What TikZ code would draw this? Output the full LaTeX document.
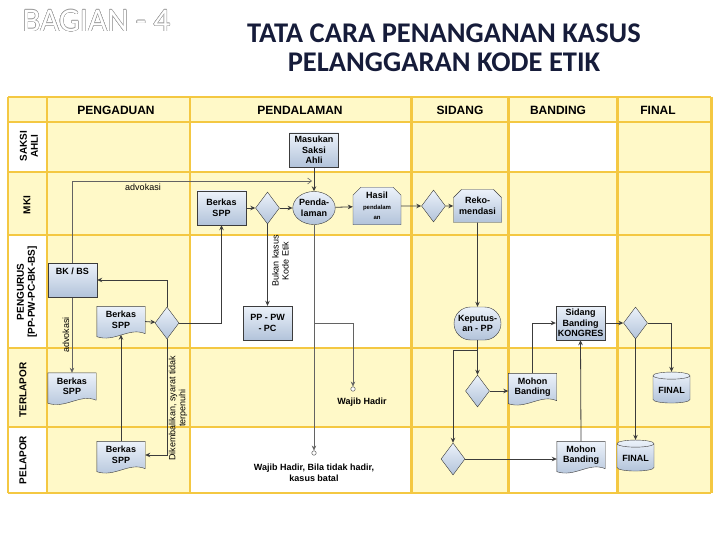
\documentclass[tikz,border=0pt]{standalone}
\usepackage{fontspec}
\setmainfont{Liberation Sans}
\newfontfamily\titlefont{Carlito}
\usepackage{contour}
\usetikzlibrary{arrows.meta,shapes.geometric,shapes.misc}
\definecolor{cellY}{RGB}{255,249,200}
\definecolor{gridC}{RGB}{244,200,66}
\definecolor{nodeT}{RGB}{236,242,250}
\definecolor{nodeB}{RGB}{178,195,218}
\definecolor{lineC}{RGB}{60,60,60}
\definecolor{titleC}{RGB}{22,28,58}
\contourlength{0.4pt}
\pgfdeclarelayer{bg}\pgfdeclarelayer{mid}\pgfsetlayers{bg,mid,main}
\tikzset{nb/.style={draw=lineC,top color=nodeT,bottom color=nodeB,font=\bfseries\fontsize{9}{10.5}\selectfont,align=center,inner sep=1pt},
pr/.style={nb,rectangle,minimum width=49,minimum height=34},
dm/.style={nb,diamond,minimum width=24,minimum height=32,inner sep=0pt},
el/.style={nb,ellipse,minimum width=42,minimum height=33,inner sep=0pt},
ch/.style={nb,chamfered rectangle,chamfered rectangle corners={north west,north east},chamfered rectangle xsep=4pt,chamfered rectangle ysep=4pt,minimum width=48,minimum height=33},
rr/.style={nb,rounded rectangle,minimum width=49,minimum height=33},
cy/.style={nb,cylinder,shape border rotate=90,aspect=0.25,minimum width=37,minimum height=31},
dc/.style={font=\bfseries\fontsize{9}{10.5}\selectfont,align=center,minimum width=48,minimum height=27,inner sep=1pt},
tm/.style={draw=lineC,circle,fill=white,minimum size=4.5,inner sep=0pt},
hd/.style={font=\bfseries\fontsize{12}{12}\selectfont},
rl/.style={font=\bfseries\fontsize{10}{11}\selectfont,align=center,rotate=90},
lb/.style={font=\fontsize{9}{10}\selectfont,align=center},
gl/.style={draw=gridC,line width=1.6},
ar/.style={draw=lineC,line width=0.8,-{Stealth[length=5pt,width=4.5pt]}},
tl/.style={draw=lineC!80,line width=0.6,-{Stealth[length=5pt,width=4.5pt]}}}
\begin{document}
\begin{tikzpicture}[x=1pt,y=-1pt]
\useasboundingbox (0,0) rectangle (720,540);
\node[font=\titlefont\fontsize{33}{33}\selectfont,text=white,anchor=west] (bag) at (19,21) {\contour{gray!80}{BAGIAN - 4}};
\node[font=\titlefont\bfseries\fontsize{28.5}{29}\selectfont,text=titleC,align=center] (ttl) at (444,48) {TATA CARA PENANGANAN KASUS\\PELANGGARAN KODE ETIK};
\begin{pgfonlayer}{bg}
\fill[cellY] (8,97) rectangle (711,493);
\foreach\ya/\yb in{122/172,235/348,427/493}\foreach\xa/\xb in{8/47,190/411.5,508/617}\fill[white](\xa,\ya)rectangle(\xb,\yb);
\foreach\yy in{97,122,172,235,348,427,493}\draw[gl](8,\yy)--(711,\yy);
\foreach\xx in{8,47,190}\draw[gl](\xx,97)--(\xx,493);
\foreach\xx in{411.5,508,617,711}\draw[gl,line width=3](\xx,97)--(\xx,493);
\end{pgfonlayer}
\foreach\x/\t in{116/PENGADUAN,300/PENDALAMAN,460/SIDANG,558/BANDING,658/FINAL}\node[hd](h\t)at(\x,110){\t};
\node[rl](rSA)at(29,146){SAKSI\\AHLI};
\node[rl](rMKI)at(27,205){MKI};
\node[rl](rPG)at(27,292){PENGURUS\\{}[PP-PW-PC-BK-BS]};
\node[rl](rTL)at(23,390){TERLAPOR};
\node[rl](rPL)at(23,460){PELAPOR};
\node[pr](saksi)at(314,150){Masukan\\Saksi\\Ahli};
\node[pr](bsA)at(221.5,208){Berkas\\SPP};
\node[dm](dA)at(267.5,208){};
\node[el](pend)at(314,208){Penda-\\laman};
\node[ch](hasil)at(377,206){Hasil\\{\fontsize{6}{7}\selectfont pendalam}\\{\fontsize{6}{7}\selectfont an}};
\node[dm](dB)at(433.5,206){};
\node[ch](reko)at(477.5,206){Reko-\\mendasi};
\node[pr,text depth=17pt](bkbs)at(72.5,280){BK / BS};
\node[dc](bsB)at(121,320){Berkas\\SPP};
\node[dm](dC)at(167,323){};
\node[pr](pppw)at(267.5,323){PP - PW\\- PC};
\node[rr](kep)at(477.5,323.5){Keputus-\\an - PP};
\node[pr](sidb)at(580.5,323){Sidang\\Banding\\KONGRES};
\node[dm](dF)at(635.5,323){};
\node[dc](bsC)at(72,386.5){Berkas\\SPP};
\node[dm](dD)at(477.5,391){};
\node[dc](mbA)at(532.5,387){Mohon\\Banding};
\node[cy](finA)at(671.5,390){FINAL};
\node[dc](bsD)at(121,455){Berkas\\SPP};
\node[dm](dE)at(453,459){};
\node[dc](mbB)at(581,455){Mohon\\Banding};
\node[cy](finB)at(635.5,458){FINAL};
\node[tm](wA)at(353,389){};
\node[tm](wB)at(314,453){};
\node[lb,font=\bfseries\fontsize{9}{11}\selectfont](lwA)at(362,402){Wajib Hadir};
\node[lb,font=\bfseries\fontsize{9}{11}\selectfont](lwB)at(314,473){Wajib Hadir, Bila tidak hadir,\\kasus batal};
\begin{pgfonlayer}{mid}
\foreach\nm in{bsB,bsC,bsD,mbA,mbB}\shade[top color=nodeT,bottom color=nodeB,draw=lineC](\nm.north west)--(\nm.north east)--(\nm.south east)..controls([xshift=-16pt,yshift=7pt]\nm.south east)and([xshift=18pt,yshift=-9pt]\nm.south west)..([yshift=-3pt]\nm.south west)--cycle;
\end{pgfonlayer}
\begin{pgfonlayer}{bg}
\coordinate(advE)at(312,181);
\draw[tl,{Stealth[length=5pt,width=4.5pt]}-{Straight Barb[length=4pt,width=6pt]}](bsC.north)|-(advE);
\end{pgfonlayer}
\node[lb](lad1)at(143,187){advokasi};
\node[lb,rotate=90](lad2)at(66,335){advokasi};
\foreach\a/\b in{bsA/dA,dA/pend,pend/hasil,hasil/dB,dB/reko,saksi/pend,reko/kep,bsB/dC,kep/dD,sidb/dF,dF/finB}\draw[ar](\a)--(\b);
\draw[ar](dA)--node[lb,rotate=90,xshift=4pt,yshift=-13pt](lbk){Bukan kasus\\Kode Etik}(pppw);
\draw[ar](dC.north)|-(bkbs);
\draw[ar](dC.east)-|(bsA.south);
\draw[ar](dC.south)|-(bsD.east);
\node[lb,rotate=90](ldk)at(178,408){Dikembalikan, syarat tidak\\terpenuhi};
\draw[ar](bsD.north)--([yshift=-1pt]bsB.south);
\coordinate(brA)at(314,323);
\draw[tl](pend.south)--(wB.north);
\draw[tl](brA)-|(wA.north);
\coordinate(brB)at(477.5,350);
\draw[ar](brB)-|(dE.north);
\draw[ar](dD.east)--(mbA.west|-dD.east);
\draw[ar](mbA.north)|-(sidb.west);
\draw[ar](dE.east)--(mbB.west|-dE.east);
\draw[ar](mbB.north)--(sidb.south);
\draw[ar](dF.east)-|(finA.north);
\end{tikzpicture}
\end{document}
